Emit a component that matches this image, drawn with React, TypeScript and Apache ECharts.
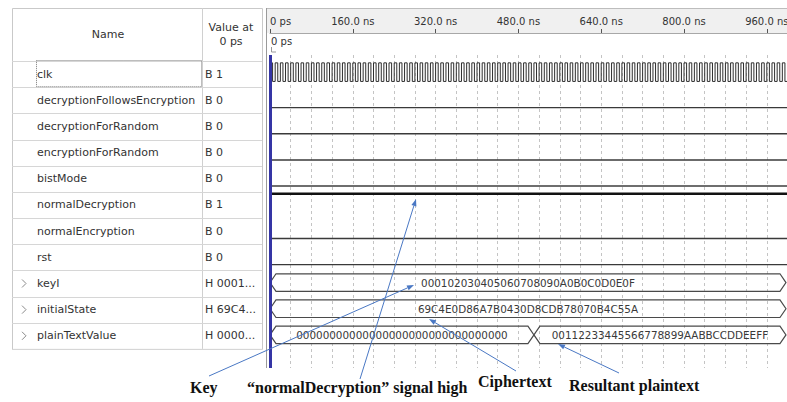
import React, { useEffect, useRef } from "react";
import * as echarts from "echarts";

// ---------- data ----------
const signalNames = [
  "clk",
  "decryptionFollowsEncryption",
  "decryptionForRandom",
  "encryptionForRandom",
  "bistMode",
  "normalDecryption",
  "normalEncryption",
  "rst",
  "keyI",
  "initialState",
  "plainTextValue",
];
const valuesAt0 = ["B 1", "B 0", "B 0", "B 0", "B 0", "B 1", "B 0", "B 0", "H 0001...", "H 69C4...", "H 0000..."];
const expandableRows = [false, false, false, false, false, false, false, false, true, true, true];

const viewStartNs = 0;
const viewEndNs = 999;
const gridStepNs = 40;
const labelStepNs = 160;

// clock: period and level at 0 ps
const clkPeriodNs = 10;
const clkInitialLevel = 1;

// single-bit signals: [time ns, level] change events
const decryptionFollowsEncryption: [number, number][] = [[0, 0]];
const decryptionForRandom: [number, number][] = [[0, 0]];
const encryptionForRandom: [number, number][] = [[0, 0]];
const bistMode: [number, number][] = [[0, 0]];
const normalDecryption: [number, number][] = [[0, 1]];
const normalEncryption: [number, number][] = [[0, 0]];
const rst: [number, number][] = [[0, 0]];

// buses: [row, start ns, end ns]
const busRows = [8, 9, 10, 10];
const busStarts = [0, 0, 0, 510];
const busEnds = [997, 997, 510, 997];
const busTexts = [
  "000102030405060708090A0B0C0D0E0F",
  "69C4E0D86A7B0430D8CDB78070B4C55A",
  "00000000000000000000000000000000",
  "00112233445566778899AABBCCDDEEFF",
];

// annotations
const annotationTexts = ["Key", "\u201cnormalDecryption\u201d signal high", "Ciphertext", "Resultant plaintext"];

// ---------- layout constants ----------
const LEVEL_HIGH = 0.07;
const LEVEL_LOW = 0.78;
const BUS_TOP = 0.13;
const BUS_BOTTOM = 0.8;
const Y_MIN = -0.23;
const Y_MAX = 11.73;
const UI_FONT = '"DejaVu Sans", Tahoma, sans-serif';
const NOTE_FONT = 'bold 16px "Liberation Serif", "Times New Roman", serif';
const ARROW_COLOR = "#4a78c4";

function levelY(row: number, lvl: number) {
  return row + (lvl ? LEVEL_HIGH : LEVEL_LOW);
}

function bitSeriesData(row: number, changes: [number, number][]) {
  const d: number[][] = changes.map(([t, v]) => [t, levelY(row, v)]);
  const last = changes[changes.length - 1];
  d.push([viewEndNs, levelY(row, last[1])]);
  return d;
}

function clockData(row: number) {
  const d: number[][] = [];
  let lvl = clkInitialLevel;
  for (let t = 0; t < viewEndNs; t += clkPeriodNs / 2) {
    d.push([t, levelY(row, lvl)]);
    lvl = 1 - lvl;
  }
  d.push([viewEndNs, levelY(row, 1 - lvl)]);
  return d;
}

function arrow(x1: number, y1: number, x2: number, y2: number) {
  const ang = Math.atan2(y2 - y1, x2 - x1);
  const len = 7;
  const hw = 2.6;
  const bx = x2 - len * Math.cos(ang);
  const by = y2 - len * Math.sin(ang);
  const px = -Math.sin(ang) * hw;
  const py = Math.cos(ang) * hw;
  return [
    { type: "line", z: 100, shape: { x1, y1, x2: bx, y2: by }, style: { stroke: ARROW_COLOR, lineWidth: 1 }, silent: true },
    {
      type: "polygon",
      z: 100,
      shape: { points: [[x2, y2], [bx + px, by + py], [bx - px, by - py]] },
      style: { fill: ARROW_COLOR },
      silent: true,
    },
  ];
}

export default function App() {
  const ref = useRef<HTMLDivElement>(null);

  useEffect(() => {
    if (!ref.current) return;
    const chart = echarts.init(ref.current, undefined, { renderer: "svg" });

    const bitList: { row: number; data: [number, number][]; color: string; width: number }[] = [
      { row: 1, data: decryptionFollowsEncryption, color: "#3a3a3a", width: 1.4 },
      { row: 2, data: decryptionForRandom, color: "#3a3a3a", width: 1.4 },
      { row: 3, data: encryptionForRandom, color: "#3a3a3a", width: 1.4 },
      { row: 4, data: bistMode, color: "#6e6e6e", width: 2 },
      { row: 5, data: normalDecryption, color: "#111111", width: 2.4 },
      { row: 6, data: normalEncryption, color: "#3a3a3a", width: 1.4 },
      { row: 7, data: rst, color: "#3a3a3a", width: 1.4 },
    ];

    const series: any[] = [
      {
        type: "line",
        name: "clk",
        step: "end",
        data: clockData(0),
        showSymbol: false,
        lineStyle: { color: "#2e2e2e", width: 1 },
        z: 3,
        silent: true,
        markLine: {
          silent: true,
          symbol: "none",
          label: { show: false },
          lineStyle: { color: "#3535a5", width: 3, type: "solid" },
          data: [{ xAxis: 0 }],
          z: 6,
        },
      },
      ...bitList.map((b) => ({
        type: "line",
        step: "end",
        data: bitSeriesData(b.row, b.data),
        showSymbol: false,
        lineStyle: { color: b.color, width: b.width },
        z: 3,
        silent: true,
      })),
      {
        type: "custom",
        silent: true,
        z: 3,
        data: busRows.map((r, i) => [busStarts[i], busEnds[i], r]),
        renderItem: (params: any, api: any) => {
          const s = api.value(0);
          const e = api.value(1);
          const row = api.value(2);
          const pT = api.coord([s, row + BUS_TOP]);
          const pB = api.coord([s, row + BUS_BOTTOM]);
          const x1 = pT[0];
          const x2 = api.coord([e, row])[0];
          const yT = pT[1];
          const yB = pB[1];
          const yM = (yT + yB) / 2;
          const b = 6;
          return {
            type: "group",
            children: [
              {
                type: "polygon",
                shape: {
                  points: [
                    [x1, yM],
                    [x1 + b, yT],
                    [x2 - b, yT],
                    [x2, yM],
                    [x2 - b, yB],
                    [x1 + b, yB],
                  ],
                },
                style: { fill: "none", stroke: "#4a4a4a", lineWidth: 1.2 },
              },
              {
                type: "text",
                style: {
                  text: busTexts[params.dataIndex],
                  x: (x1 + x2) / 2,
                  y: yM + 0.5,
                  align: "center",
                  verticalAlign: "middle",
                  font: `10.4px ${UI_FONT}`,
                  fill: "#3a3a3a",
                },
              },
            ],
          };
        },
      },
    ];

    const option: any = {
      animation: false,
      backgroundColor: "#ffffff",
      grid: { left: 270, right: 0, top: 55, bottom: 34, containLabel: false, outerBoundsMode: "none" },
      xAxis: [
        {
          type: "value",
          min: viewStartNs,
          max: viewEndNs,
          interval: gridStepNs,
          axisLine: { show: false },
          axisTick: { show: false },
          axisLabel: { show: false },
          splitLine: { show: true, lineStyle: { color: "#c4c4c4", width: 1, type: [3, 3] } },
        },
        {
          type: "value",
          position: "top",
          offset: 22,
          min: viewStartNs,
          max: viewEndNs,
          interval: labelStepNs,
          z: 4,
          axisLine: { show: true, lineStyle: { color: "#a8a8a8", width: 1 } },
          axisTick: { show: true, length: 4, lineStyle: { color: "#555", width: 1 } },
          splitLine: { show: false },
          axisLabel: {
            show: true,
            margin: 7,
            fontSize: 10,
            fontFamily: UI_FONT,
            color: "#333",
            alignMinLabel: "left",
            showMaxLabel: false,
            formatter: (v: number) => (v % labelStepNs !== 0 ? "" : v === 0 ? "0 ps" : `${v.toFixed(1)} ns`),
          },
        },
      ],
      yAxis: {
        type: "value",
        min: Y_MIN,
        max: Y_MAX,
        inverse: true,
        show: false,
        splitLine: { show: false },
      },
      series,
    };

    chart.setOption(option);

    const rowTop = (i: number) => chart.convertToPixel({ yAxisIndex: 0 }, i) as number;
    const tableLeft = 12;
    const colDiv = 202;
    const tableRight = 262;
    const headTop = 8;
    const tableBottom = rowTop(signalNames.length);
    const g: any[] = [];

    // table
    g.push({
      type: "rect",
      z: -1,
      shape: { x: tableLeft + 0.5, y: headTop + 0.5, width: tableRight - tableLeft, height: tableBottom - headTop },
      style: { fill: "#fff", stroke: "#c9c9c9", lineWidth: 1 },
    });
    g.push({
      type: "line",
      z: 1,
      shape: { x1: colDiv + 0.5, y1: headTop, x2: colDiv + 0.5, y2: tableBottom },
      style: { stroke: "#d0d0d0", lineWidth: 1 },
    });
    for (let i = 0; i <= signalNames.length; i++) {
      const y = Math.round(rowTop(i)) + 0.5;
      g.push({
        type: "line",
        z: 1,
        shape: { x1: tableLeft, y1: y, x2: tableRight, y2: y },
        style: { stroke: "#d6d6d6", lineWidth: 1 },
      });
    }
    g.push({
      type: "text",
      z: 2,
      style: { text: "Name", x: 108, y: 34, align: "center", verticalAlign: "middle", font: `11px ${UI_FONT}`, fill: "#333" },
    });
    g.push({
      type: "text",
      z: 2,
      style: { text: "Value at", x: 231, y: 27, align: "center", verticalAlign: "middle", font: `11px ${UI_FONT}`, fill: "#333" },
    });
    g.push({
      type: "text",
      z: 2,
      style: { text: "0 ps", x: 231, y: 41, align: "center", verticalAlign: "middle", font: `11px ${UI_FONT}`, fill: "#333" },
    });
    signalNames.forEach((n, i) => {
      const mid = (rowTop(i) + rowTop(i + 1)) / 2;
      g.push({
        type: "text",
        z: 2,
        style: { text: n, x: 37, y: mid, align: "left", verticalAlign: "middle", font: `11px ${UI_FONT}`, fill: "#333" },
      });
      g.push({
        type: "text",
        z: 2,
        style: { text: valuesAt0[i], x: 205, y: mid, align: "left", verticalAlign: "middle", font: `11px ${UI_FONT}`, fill: "#333" },
      });
      if (expandableRows[i]) {
        g.push({
          type: "polyline",
          z: 2,
          shape: { points: [[22, mid - 4], [26, mid], [22, mid + 4]] },
          style: { stroke: "#8a8a8a", lineWidth: 1, fill: "none" },
        });
      }
    });
    // focus rectangle around clk name cell
    g.push({
      type: "rect",
      z: 2,
      shape: { x: 36.5, y: Math.round(rowTop(0)) - 0.5, width: colDiv - 37, height: rowTop(1) - rowTop(0) },
      style: { fill: "none", stroke: "#7a7a7a", lineWidth: 1, lineDash: [1, 1] },
    });

    // waveform panel frame and header band
    const panelLeft = 266;
    g.push({
      type: "rect",
      z: -1,
      shape: { x: panelLeft, y: headTop, width: 787 - panelLeft, height: 25 },
      style: { fill: "#f0f0f0", stroke: "none" },
    });
    g.push({
      type: "line",
      z: 1,
      shape: { x1: panelLeft, y1: headTop + 0.5, x2: 787, y2: headTop + 0.5 },
      style: { stroke: "#bdbdbd", lineWidth: 1 },
    });
    g.push({
      type: "line",
      z: 1,
      shape: { x1: panelLeft + 0.5, y1: headTop, x2: panelLeft + 0.5, y2: 368 },
      style: { stroke: "#9a9a9a", lineWidth: 1 },
    });
    // cursor label
    g.push({
      type: "text",
      z: 5,
      style: { text: "0 ps", x: 271, y: 41, align: "left", verticalAlign: "middle", font: `10px ${UI_FONT}`, fill: "#333" },
    });
    g.push({
      type: "polyline",
      z: 5,
      shape: { points: [[271.5, 47], [271.5, 52], [276, 52]] },
      style: { stroke: "#999", lineWidth: 1, fill: "none" },
    });

    // annotations
    g.push({ type: "text", z: 100, style: { text: annotationTexts[0], x: 190, y: 387, align: "left", verticalAlign: "middle", font: NOTE_FONT, fill: "#111" } });
    g.push({ type: "text", z: 100, style: { text: annotationTexts[1], x: 247, y: 387, align: "left", verticalAlign: "middle", font: NOTE_FONT, fill: "#111" } });
    g.push({ type: "text", z: 100, style: { text: annotationTexts[2], x: 478, y: 381, align: "left", verticalAlign: "middle", font: NOTE_FONT, fill: "#111" } });
    g.push({ type: "text", z: 100, style: { text: annotationTexts[3], x: 569, y: 385, align: "left", verticalAlign: "middle", font: NOTE_FONT, fill: "#111" } });
    g.push(...arrow(209, 376, 414, 285));
    g.push(...arrow(360, 379, 416, 199));
    g.push(...arrow(516, 371, 429, 319));
    g.push(...arrow(619, 373, 558, 344));

    chart.setOption({ graphic: { elements: g } });

    return () => {
      chart.dispose();
    };
  }, []);

  return (
    <div
      ref={ref}
      style={{ position: "absolute", left: 0, top: 0, width: 787, height: 402, background: "#fff" }}
    />
  );
}
